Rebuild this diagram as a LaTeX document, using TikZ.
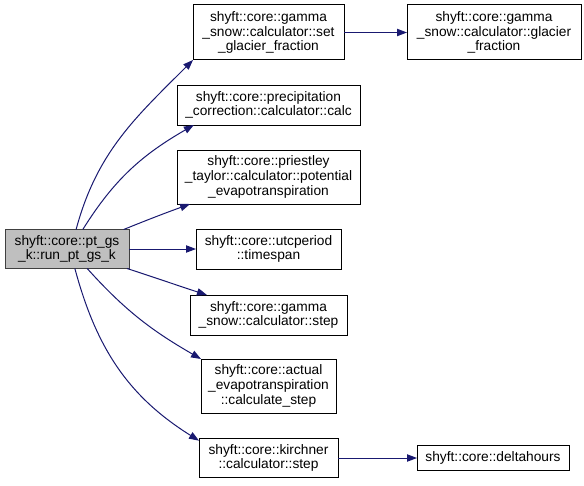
\documentclass[tikz,border=0pt]{standalone}
\usepackage{fontspec}
\setmainfont{Liberation Sans}
\usepackage{xcolor}
\usepackage{tikz}
\usetikzlibrary{arrows.meta}
\definecolor{callnavy}{RGB}{25, 25, 112}
\definecolor{rootgray}{RGB}{191, 191, 191}

\begin{document}
\begin{tikzpicture}[x=0.75pt, y=0.75pt,
    every node/.style={font=\fontsize{10.3}{11}\selectfont, align=center, inner sep=0pt, outer sep=0pt},
    fnbox/.style={draw=black, line width=0.75pt, fill=white},
    rootbox/.style={draw=black!75, line width=0.75pt, fill=rootgray},
    callarrow/.style={draw=callnavy, line width=0.75pt, -{Triangle[length=7.5pt, width=5.5pt]}}]
    \useasboundingbox (0, 0) rectangle (584, -485);

    % caller
    \node[rootbox, minimum width=93pt, minimum height=29.25pt] (root) at (67, -249) {shyft::core::pt\_gs\\\_k::run\_pt\_gs\_k};

    % callees
    \node[fnbox, minimum width=113.25pt, minimum height=41.25pt] (setgf) at (268.5, -32.5) {shyft::core::gamma\\\_snow::calculator::set\\\_glacier\_fraction};
    \node[fnbox, minimum width=130.5pt, minimum height=41.25pt] (glacierfr) at (494, -32.5) {shyft::core::gamma\\\_snow::calculator::glacier\\\_fraction};
    \node[fnbox, minimum width=137.25pt, minimum height=30pt] (precip) at (268.5, -105) {shyft::core::precipitation\\\_correction::calculator::calc};
    \node[fnbox, minimum width=137.25pt, minimum height=40.5pt] (priestley) at (268.5, -177) {shyft::core::priestley\\\_taylor::calculator::potential\\\_evapotranspiration};
    \node[fnbox, minimum width=108.75pt, minimum height=30pt] (timespan) at (268.5, -249) {shyft::core::utcperiod\\::timespan};
    \node[fnbox, minimum width=117.75pt, minimum height=30pt] (gsstep) at (268.5, -315) {shyft::core::gamma\\\_snow::calculator::step};
    \node[fnbox, minimum width=101.25pt, minimum height=40.5pt] (actevap) at (268.5, -386) {shyft::core::actual\\\_evapotranspiration\\::calculate\_step};
    \node[fnbox, minimum width=104.25pt, minimum height=29.25pt] (kirstep) at (268.5, -458) {shyft::core::kirchner\\::calculator::step};
    \node[fnbox, minimum width=114pt, minimum height=18.75pt] (deltah) at (493, -458) {shyft::core::deltahours};

    % calls
    \draw[callarrow] (root.65) to[out=75, in=225] (setgf.south west);
    \draw[callarrow] (root.51) to[out=58, in=210] (precip.195);
    \draw[callarrow] (root.19) to[out=22, in=200] (priestley.199);
    \draw[callarrow] (root.east) -- (timespan.west);
    \draw[callarrow] (root.-18) to[out=-18, in=162] (gsstep.162);
    \draw[callarrow] (root.-44) to[out=-48, in=150] (actevap.north west);
    \draw[callarrow] (root.-68) to[out=-75, in=148] (kirstep.166);
    \draw[callarrow] (setgf.east) -- (glacierfr.west);
    \draw[callarrow] (kirstep.east) -- (deltah.west);
\end{tikzpicture}
\end{document}
